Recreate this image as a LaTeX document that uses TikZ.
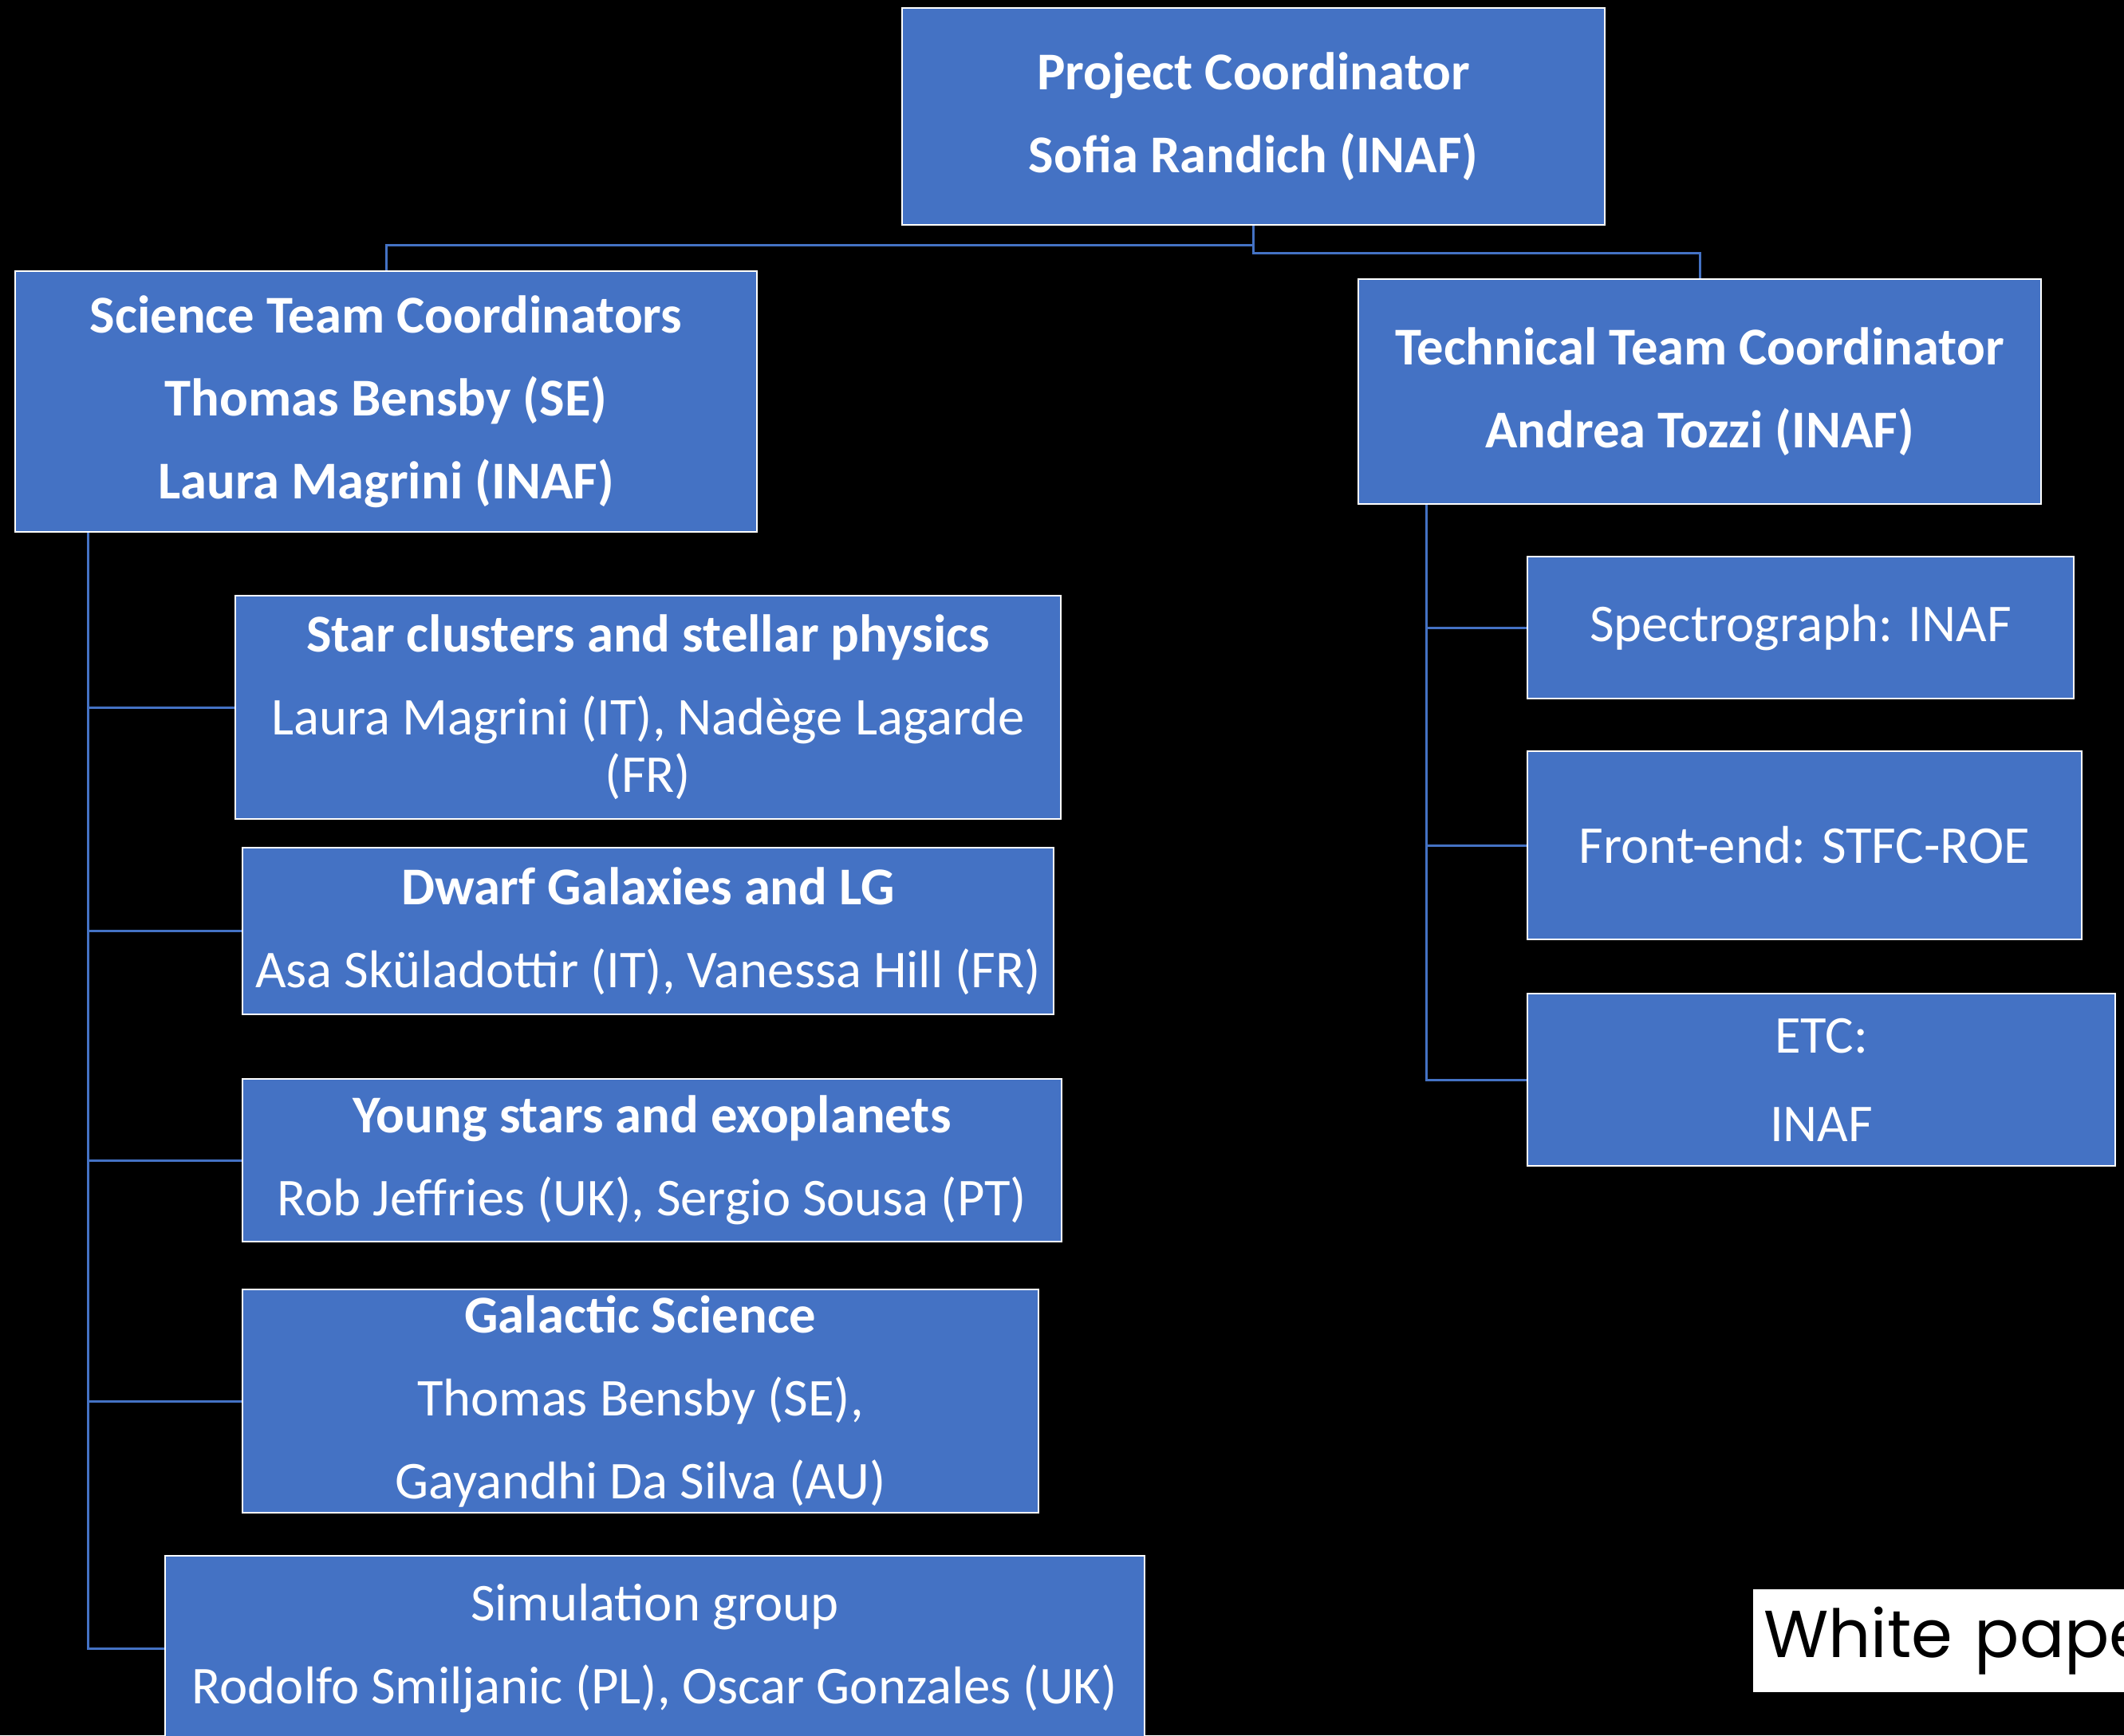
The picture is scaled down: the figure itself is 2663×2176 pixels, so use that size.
\documentclass[tikz,border=0pt]{standalone}
\usepackage{fontspec}
\setmainfont{Carlito}
\newfontfamily\wpfont{Poppins}
\definecolor{cBox}{HTML}{4472C4}
\definecolor{cLine}{HTML}{4472C4}
\tikzset{
  font=\fontsize{20}{21.5}\selectfont,
  box/.style={draw=white, fill=cBox, line width=0.8pt, text=white,
              align=center, inner sep=0pt},
  link/.style={draw=cLine, line width=0.9pt},
  wpbox/.style={fill=white, text=black, inner sep=0pt, anchor=west, align=left,
                font=\wpfont\fontsize{25}{27}\selectfont},
}
\newcommand{\gap}{\\[9.7pt]}

\begin{document}
\begin{tikzpicture}[x=0.3pt, y=-0.3pt]

% ------------------------------------------------------------------ canvas
\useasboundingbox (0,0) rectangle (2663,2176);
\fill[black] (0,0) rectangle (2663,2176);
\clip (0,0) rectangle (2663,2176);

% ------------------------------------------------------------------ coordinators
\node[box, minimum width=264.3pt, minimum height=81.6pt] (pc) at (1571.5,146)
  {\textbf{Project Coordinator}\gap\textbf{Sofia Randich (INAF)}};
\node[box, minimum width=279pt, minimum height=98.1pt] (sci) at (484,503.5)
  {\textbf{Science Team Coordinators}\gap\textbf{Thomas Bensby (SE)}\gap\textbf{Laura Magrini (INAF)}};
\node[box, minimum width=256.8pt, minimum height=84.6pt] (tech) at (2131,491)
  {\textbf{Technical Team Coordinator}\gap\textbf{Andrea Tozzi (INAF)}};

\draw[link] (pc.south) -- ++(0,24) -| (sci.north);
\draw[link] (pc.south) -- ++(0,34) -| (tech.north);

% ------------------------------------------------------------------ science teams
\node[box, minimum width=310.5pt, minimum height=84pt] (star) at (812.5,887)
  {\textbf{Star clusters and stellar physics}\gap Laura Magrini (IT), Nadège Lagarde\\(FR)};
\node[box, minimum width=305.1pt, minimum height=62.7pt] (dwarf) at (812.5,1167.5)
  {\textbf{Dwarf Galaxies and LG}\gap Asa Sküladottir (IT), Vanessa Hill (FR)};
\node[box, minimum width=308.1pt, minimum height=61.2pt] (young) at (817.5,1455)
  {\textbf{Young stars and exoplanets}\gap Rob Jeffries (UK), Sergio Sousa (PT)};
\node[box, minimum width=299.4pt, minimum height=84pt] (gal) at (803,1757)
  {\textbf{Galactic Science}\gap Thomas Bensby (SE),\gap Gayandhi Da Silva (AU)};
\node[box, minimum width=368.4pt, minimum height=69.6pt] (sim) at (821,2067)
  {Simulation group\gap Rodolfo Smiljanic (PL), Oscar Gonzales (UK)};

\coordinate (sciroot) at ([xshift=27.9pt]sci.south west);
\foreach \t in {star,dwarf,young,gal,sim}
  \draw[link] (sciroot) |- (\t.west);

% ------------------------------------------------------------------ technical teams
\node[box, minimum width=205.5pt, minimum height=53.4pt] (spec) at (2257.5,787)
  {Spectrograph: INAF};
\node[box, minimum width=208.5pt, minimum height=70.8pt] (front) at (2262.5,1060)
  {Front-end: STFC-ROE};
\node[box, minimum width=221.1pt, minimum height=64.8pt] (etc) at (2283.5,1354)
  {ETC:\\[11.8pt]INAF};

\coordinate (techroot) at ([xshift=26.1pt]tech.south west);
\foreach \t in {spec,front,etc}
  \draw[link] (techroot) |- (\t.west);

% ------------------------------------------------------------------ tag
\node[wpbox, minimum height=38.7pt, text width=160pt] (wp) at (2197,2057.5)
  {\hspace*{4pt}White pape};

\end{tikzpicture}
\end{document}
